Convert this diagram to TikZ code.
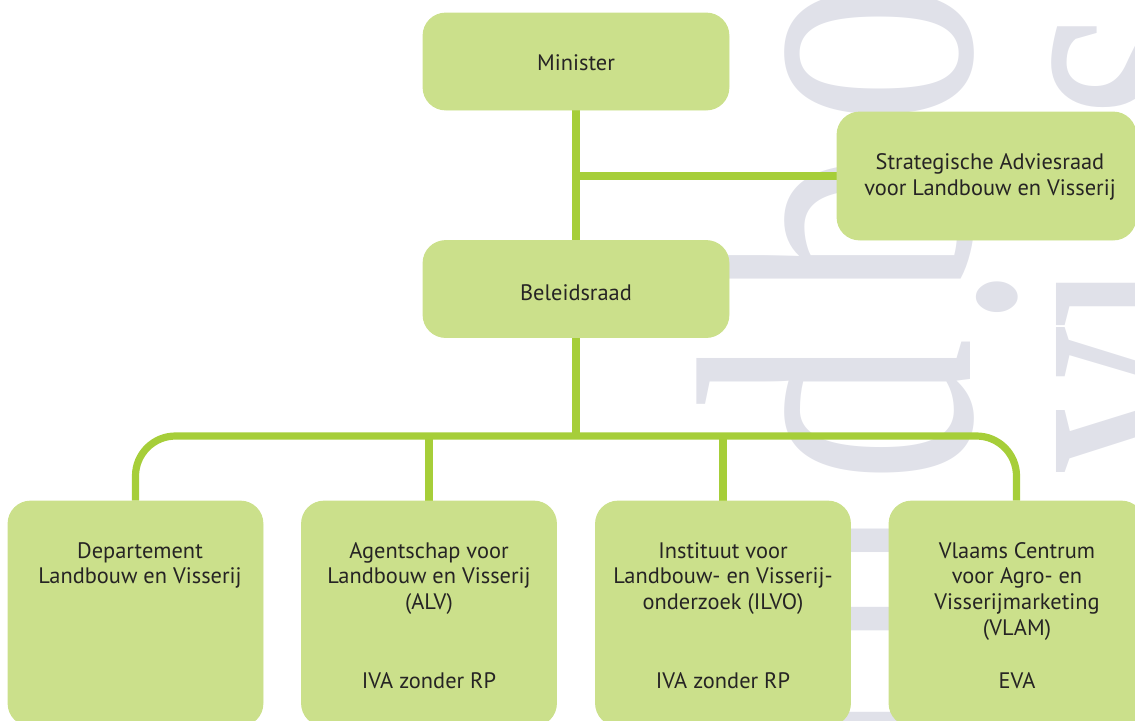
\documentclass[tikz,border=0pt]{standalone}
\usepackage{fontspec}
\usepackage{graphicx}
\setmainfont{PT Sans}
\newfontfamily\wmfont{Liberation Serif}
\definecolor{boxfill}{RGB}{203,224,139}
\definecolor{linec}{RGB}{166,206,57}
\definecolor{wmc}{RGB}{224,225,233}
\definecolor{txt}{RGB}{38,36,36}
\begin{document}
\begin{tikzpicture}[x=0.5pt,y=-0.5pt,
  box/.style={fill=boxfill, draw=none, rounded corners=11.5pt, inner sep=0pt},
  topbox/.style={box, minimum width=153pt, minimum height=48.5pt},
  lowbox/.style={box, minimum width=127.5pt, minimum height=112.5pt},
  conn/.style={draw=linec, line width=3.6pt},
  lbl/.style={text=txt, align=center, inner sep=0pt, font=\fontsize{11.2}{12.8}\selectfont},
  wm/.style={text=wmc, rotate=90, anchor=base, inner sep=0pt, font=\wmfont\fontsize{145}{145}\selectfont}]
\useasboundingbox (0,0) rectangle (1135,720);
\clip (0,0) rectangle (1135,720);
% watermark letters
\foreach \l/\y [count=\i] in {a/756,n/581,d/411,b/226,o/53}
  \node[wm] (wl\i) at (970,\y) {\scalebox{1}[1.36]{\l}};
\foreach \l/\y [count=\i] in {v/400,i/295,s/180,s/63}
  \node[wm] (wr\i) at (1237,\y) {\scalebox{1}[1.36]{\l}};
% boxes (positions)
\path (576,61.5) node[topbox] (min) {};
\path (576,289) node[topbox] (bel) {};
\path (986.5,176) node[box, minimum width=149.5pt, minimum height=64pt] (str) {};
\path (135.5,613.5) node[lowbox] (dep) {};
\path (429,613.5) node[lowbox] (agt) {};
\path (723,613.5) node[lowbox] (ins) {};
\path (1016.5,613.5) node[lowbox] (vla) {};
% connectors
\coordinate (bus) at (576,436);
\draw[conn] (min.south) -- (bel.north);
\draw[conn] (min.south |- str.west) -- (str.west);
\draw[conn] (bel.south) -- (bus);
\draw[conn, rounded corners=20pt] (dep.north) |- (bus) -| (vla.north);
\draw[conn] (agt.north) -- (agt.north |- bus);
\draw[conn] (ins.north) -- (ins.north |- bus);
% redraw boxes on top of the connector ends
\foreach \n in {min,bel,str,dep,agt,ins,vla}
  \fill[boxfill, rounded corners=11.5pt] (\n.south west) rectangle (\n.north east);
% labels
\node[lbl] (tmin) at (576,63) {Minister};
\node[lbl] (tbel) at (576,293) {Beleidsraad};
\node[lbl] (tstr) at (990,177) {Strategische Adviesraad\\voor Landbouw en Visserij};
\node[lbl, anchor=north] (tdep) at (140,542) {Departement\\Landbouw en Visserij};
\node[lbl, anchor=north] (tagt) at (429,542) {Agentschap voor\\Landbouw en Visserij\\(ALV)};
\node[lbl, anchor=north] (tins) at (723,542) {Instituut voor\\Landbouw- en Visserij-\\onderzoek (ILVO)};
\node[lbl, anchor=north] (tvla) at (1017,542) {Vlaams Centrum\\voor Agro- en\\Visserijmarketing\\(VLAM)};
\node[lbl, anchor=base] (sagt) at (429,688) {IVA zonder RP};
\node[lbl, anchor=base] (sins) at (723,688) {IVA zonder RP};
\node[lbl, anchor=base] (svla) at (1017,688) {EVA};
\end{tikzpicture}
\end{document}
